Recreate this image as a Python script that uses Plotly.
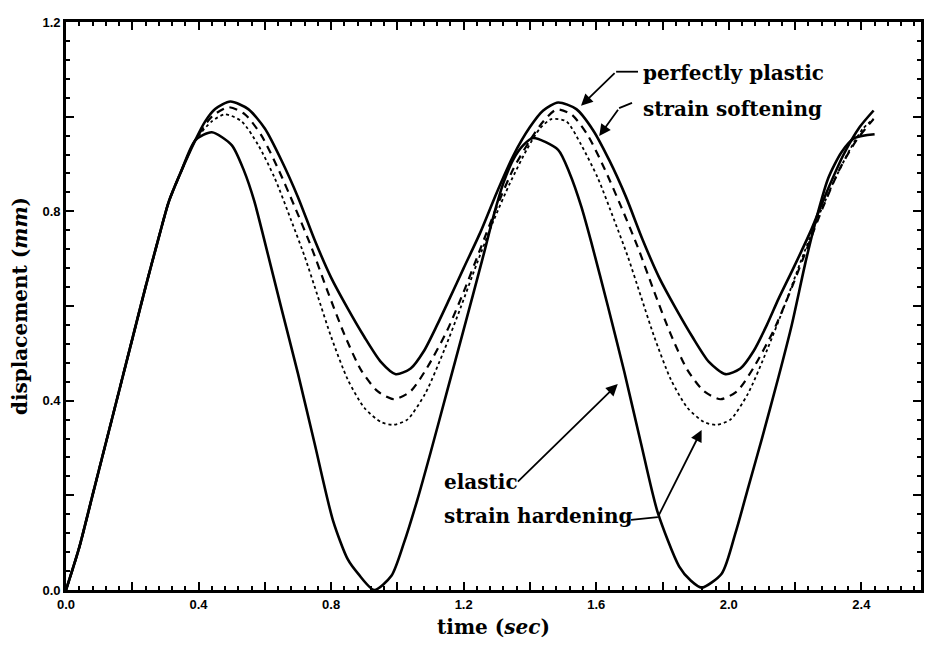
import plotly.graph_objects as go

# Common initial rise (all four responses coincide until first yield)
t_rise = [0, 0.04, 0.08, 0.12, 0.16, 0.20, 0.24, 0.28, 0.31, 0.346, 0.39]
y_rise = [0, 0.09, 0.20, 0.31, 0.42, 0.53, 0.64, 0.745, 0.82, 0.882, 0.95]

# Elastic response
t_elastic = [0.44, 0.50, 0.537, 0.568, 0.60, 0.65, 0.70, 0.75, 0.806, 0.85,
             0.882, 0.93, 0.982, 1.02, 1.06, 1.10, 1.15, 1.20, 1.257, 1.29,
             1.32, 1.35, 1.38, 1.41, 1.485, 1.52, 1.555, 1.585, 1.635, 1.685,
             1.735, 1.785, 1.85, 1.885, 1.918, 1.979, 2.02, 2.06, 2.10, 2.15,
             2.19, 2.234, 2.27, 2.30, 2.34, 2.38, 2.44]
y_elastic = [0.967, 0.94, 0.886, 0.822, 0.735, 0.595, 0.457, 0.31, 0.146, 0.065,
             0.034, 0.0, 0.03, 0.10, 0.19, 0.29, 0.42, 0.55, 0.70, 0.79,
             0.86, 0.91, 0.94, 0.955, 0.93, 0.88, 0.81, 0.735, 0.60, 0.46,
             0.31, 0.165, 0.05, 0.02, 0.005, 0.035, 0.12, 0.22, 0.32, 0.45,
             0.56, 0.70, 0.80, 0.87, 0.925, 0.955, 0.963]

# Perfectly plastic response
t_plastic = [0.42, 0.45, 0.496, 0.55, 0.60, 0.65, 0.70, 0.75, 0.80, 0.85,
             0.90, 0.95, 0.995, 1.04, 1.08, 1.12, 1.157, 1.20, 1.25, 1.30,
             1.35, 1.40, 1.44, 1.485, 1.54, 1.59, 1.64, 1.69, 1.74, 1.79,
             1.84, 1.89, 1.94, 1.99, 2.035, 2.075, 2.115, 2.15, 2.195, 2.245,
             2.295, 2.345, 2.395, 2.437]
y_plastic = [0.99, 1.016, 1.032, 1.016, 0.975, 0.908, 0.83, 0.74, 0.66, 0.595,
             0.535, 0.482, 0.456, 0.468, 0.505, 0.56, 0.615, 0.68, 0.755, 0.84,
             0.918, 0.978, 1.013, 1.03, 1.016, 0.972, 0.907, 0.83, 0.74, 0.66,
             0.595, 0.535, 0.482, 0.456, 0.468, 0.505, 0.56, 0.615, 0.68, 0.755,
             0.84, 0.918, 0.978, 1.013]

# Strain softening response
t_soft = [0.44, 0.49, 0.54, 0.59, 0.64, 0.69, 0.74, 0.79, 0.84, 0.89,
          0.94, 0.99, 1.04, 1.09, 1.15, 1.20, 1.25, 1.30, 1.35, 1.40,
          1.44, 1.48, 1.525, 1.575, 1.625, 1.675, 1.725, 1.775, 1.825, 1.875,
          1.925, 1.975, 2.025, 2.075, 2.135, 2.185, 2.235, 2.285, 2.335, 2.385,
          2.437]
y_soft = [1.0, 1.02, 1.005, 0.96, 0.89, 0.81, 0.725, 0.63, 0.54, 0.465,
          0.42, 0.403, 0.42, 0.47, 0.548, 0.63, 0.72, 0.81, 0.89, 0.95,
          0.99, 1.015, 1.005, 0.96, 0.89, 0.81, 0.725, 0.63, 0.54, 0.465,
          0.42, 0.403, 0.42, 0.47, 0.548, 0.63, 0.72, 0.81, 0.89, 0.95,
          0.995]

# Strain hardening response
t_hard = [0.44, 0.48, 0.53, 0.58, 0.63, 0.68, 0.72, 0.76, 0.80, 0.85,
          0.90, 0.95, 0.988, 1.03, 1.084, 1.142, 1.19, 1.24, 1.29, 1.34,
          1.39, 1.43, 1.465, 1.51, 1.555, 1.605, 1.655, 1.695, 1.735, 1.775,
          1.825, 1.875, 1.925, 1.962, 2.005, 2.058, 2.116, 2.165, 2.215, 2.265,
          2.315, 2.365, 2.405, 2.437]
y_hard = [0.99, 1.005, 0.99, 0.94, 0.87, 0.78, 0.705, 0.62, 0.535, 0.445,
          0.385, 0.355, 0.349, 0.36, 0.415, 0.508, 0.595, 0.69, 0.78, 0.86,
          0.93, 0.975, 0.995, 0.99, 0.94, 0.87, 0.78, 0.705, 0.62, 0.535,
          0.445, 0.385, 0.355, 0.349, 0.36, 0.415, 0.508, 0.595, 0.69, 0.78,
          0.86, 0.93, 0.975, 0.995]

x_ticks = [0.0, 0.2, 0.4, 0.6, 0.8, 1.0, 1.2, 1.4, 1.6, 1.8, 2.0, 2.2, 2.4]
x_ticktext = ["0.0", "", "0.4", "", "0.8", "", "1.2", "", "1.6", "", "2.0", "", "2.4"]
y_ticks = [0.0, 0.2, 0.4, 0.6, 0.8, 1.0, 1.2]
y_ticktext = ["0.0", "", "0.4", "", "0.8", "", "1.2"]

series = [
    ("elastic", t_elastic, y_elastic, "solid", 2.6),
    ("perfectly plastic", t_plastic, y_plastic, "solid", 2.6),
    ("strain softening", t_soft, y_soft, "8px,6px", 2.2),
    ("strain hardening", t_hard, y_hard, "dot", 1.8),
]

fig = go.Figure()
for name, t, y, dash, w in series:
    fig.add_trace(go.Scatter(
        x=t_rise + t, y=y_rise + y, mode="lines", name=name,
        line=dict(color="black", width=w, dash=dash, shape="spline", smoothing=0.7),
        showlegend=False, hoverinfo="skip",
    ))

label_font = dict(family="DejaVu Serif", size=20, color="black", weight="bold")

# Curve labels: (text, x, y)
labels = [
    ("perfectly plastic", 1.735, 1.092),
    ("strain softening", 1.735, 1.016),
    ("elastic", 1.134, 0.228),
    ("strain hardening", 1.134, 0.156),
]
for txt, x, y in labels:
    fig.add_annotation(x=x, y=y, text=txt, showarrow=False, xanchor="left",
                       yanchor="middle", font=label_font)

# Leader lines (polyline segments) and arrow tips
leader_paths = [
    [(1.726, 1.095), (1.660, 1.095)],
    [(1.708, 1.029), (1.669, 1.018)],
    [(1.705, 0.148), (1.786, 0.154)],
]
for pts in leader_paths:
    for (x0, y0), (x1, y1) in zip(pts[:-1], pts[1:]):
        fig.add_shape(type="line", x0=x0, y0=y0, x1=x1, y1=y1,
                      line=dict(color="black", width=1.8))

arrows = [
    ((1.660, 1.095), (1.554, 1.023)),
    ((1.669, 1.018), (1.609, 0.959)),
    ((1.359, 0.226), (1.665, 0.435)),
    ((1.786, 0.154), (1.918, 0.338)),
]
for (xt, yt), (xh, yh) in arrows:
    fig.add_annotation(x=xh, y=yh, ax=xt, ay=yt, axref="x", ayref="y",
                       xref="x", yref="y", text="", showarrow=True,
                       arrowhead=2, arrowsize=1.3, arrowwidth=1.8,
                       arrowcolor="black")

tick_font = dict(family="Liberation Sans", size=13, color="black", weight="bold")
title_font = dict(family="DejaVu Serif", size=20, color="black", weight="bold")

fig.update_xaxes(
    range=[0, 2.58], tickmode="array", tickvals=x_ticks, ticktext=x_ticktext,
    ticks="inside", ticklen=8, tickwidth=2, tickcolor="black",
    showline=True, linewidth=2.8, linecolor="black", mirror="allticks",
    showgrid=False, zeroline=False, tickfont=tick_font,
    minor=dict(tickmode="linear", tick0=0, dtick=0.04, ticks="inside",
               ticklen=4, tickwidth=1.5, tickcolor="black", showgrid=False),
    title=dict(text="time (<i>sec</i>)", font=title_font, standoff=10),
)
fig.update_yaxes(
    range=[0, 1.2], tickmode="array", tickvals=y_ticks, ticktext=y_ticktext,
    ticks="inside", ticklen=8, tickwidth=2, tickcolor="black",
    showline=True, linewidth=2.8, linecolor="black", mirror="allticks",
    showgrid=False, zeroline=False, tickfont=tick_font,
    minor=dict(tickmode="linear", tick0=0, dtick=0.04, ticks="inside",
               ticklen=4, tickwidth=1.5, tickcolor="black", showgrid=False),
    title=dict(text="displacement (<i>mm</i>)", font=title_font, standoff=10),
)

fig.update_layout(
    width=926, height=649,
    margin=dict(l=66, r=2, t=22, b=59),
    plot_bgcolor="white", paper_bgcolor="white",
    showlegend=False,
)

fig.write_html("out.html")
